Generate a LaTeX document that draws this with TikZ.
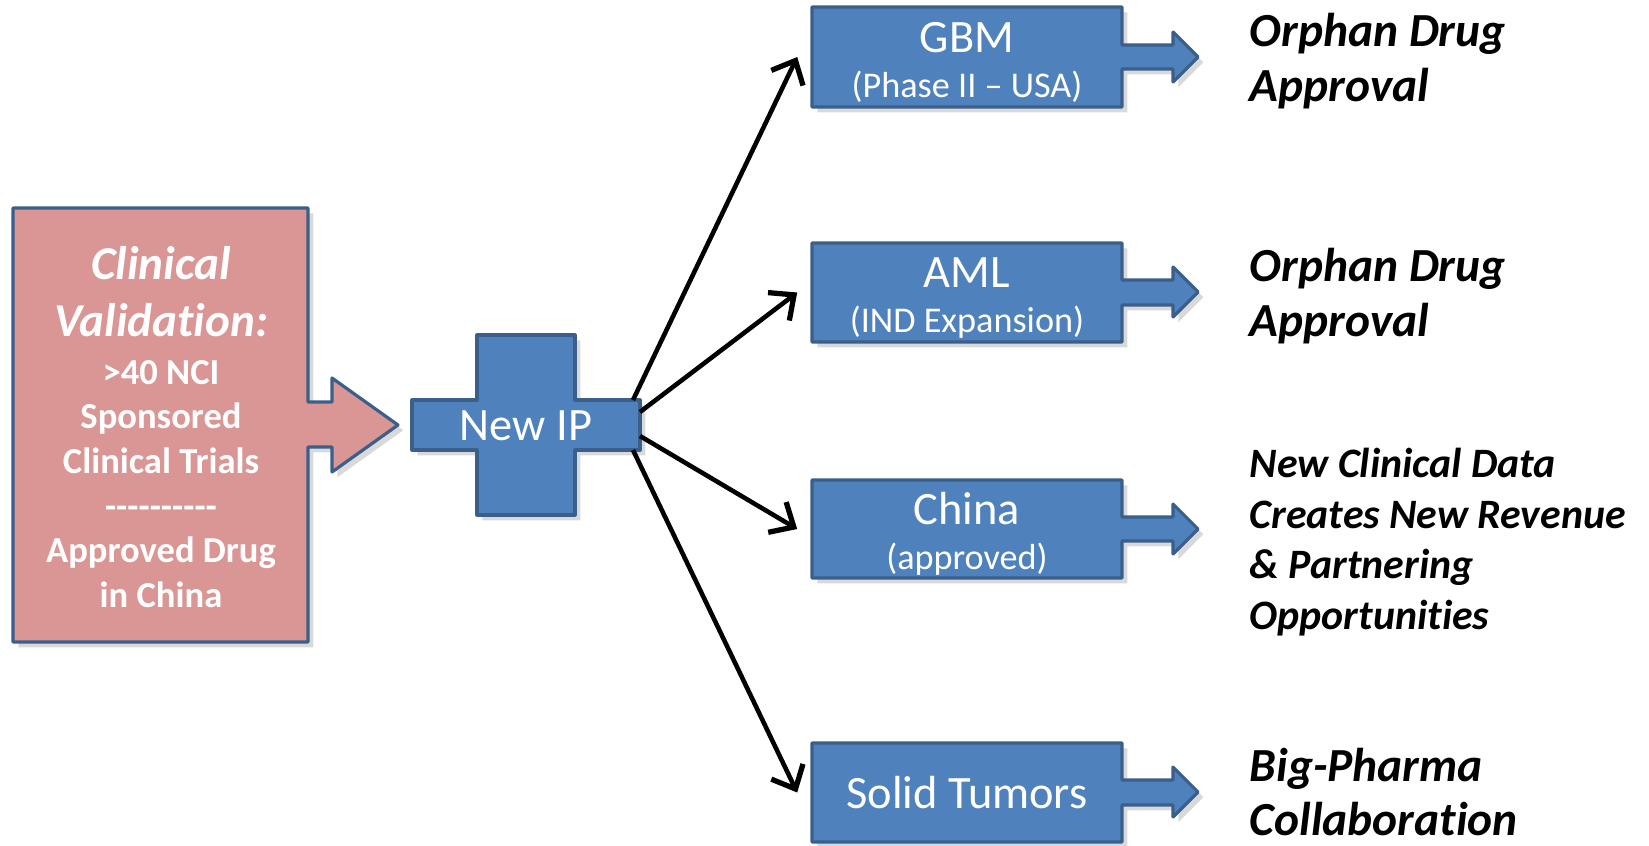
\documentclass[tikz,border=0pt]{standalone}
\usepackage{fontspec}
\setmainfont[Ligatures={TeX,NoCommon}]{Carlito}
\usetikzlibrary{shadows,arrows.meta}

\definecolor{boxblue}{HTML}{4F81BD}
\definecolor{edgeblue}{HTML}{3A5F8B}
\definecolor{boxred}{HTML}{D99694}

\tikzset{
  blueshape/.style={fill=boxblue, draw=edgeblue, line width=0.9pt, line join=round,
    drop shadow={shadow xshift=1.5pt, shadow yshift=-1.5pt, opacity=0.3}},
  redshape/.style={fill=boxred, draw=edgeblue, line width=0.9pt, line join=round,
    drop shadow={shadow xshift=1.5pt, shadow yshift=-1.5pt, opacity=0.3}},
  stage/.style={minimum width=3.1cm, minimum height=1cm, inner sep=0pt, align=center,
    text=white, font=\fontsize{13.2}{12.8}\selectfont},
  stagetwo/.style={stage, text height=25pt, text depth=2pt},
  valtext/.style={inner sep=0pt, align=center, text=white, font=\bfseries\fontsize{10.4}{12.7}\selectfont},
  outcome/.style={anchor=west, align=left, inner sep=0pt, font=\bfseries\itshape\fontsize{13.5}{15.6}\selectfont},
  link/.style={line width=1.3pt, -{Straight Barb[length=5.5pt,width=10pt,line width=1.5pt]}}
}

\begin{document}
\begin{tikzpicture}[x=0.01cm,y=-0.01cm]
\useasboundingbox (0,0) rectangle (1649,845);

% clinical validation box with its arrow
\filldraw[redshape] (13,208) -- (308,208) -- (308,402) -- (332,402) -- (332,378) -- (398,425)
  -- (332,472) -- (332,447) -- (308,447) -- (308,642) -- (13,642) -- cycle;
\node[valtext] (valid) at (161,427) {{\itshape\fontsize{13.4}{16}\selectfont Clinical}\\[3.5pt]{\itshape\fontsize{13.4}{16}\selectfont Validation:}\\[1pt]>40 NCI\\Sponsored\\Clinical Trials\\-{}-{}-{}-{}-{}-{}-{}-{}-{}-\\Approved Drug\\in China};

% new IP cross
\filldraw[blueshape] (477,335) -- (575,335) -- (575,400) -- (640,400) -- (640,450) -- (575,450)
  -- (575,515) -- (477,515) -- (477,450) -- (412,450) -- (412,400) -- (477,400) -- cycle;
\node[text=white, font=\fontsize{13.2}{15}\selectfont] (newip) at (526,426) {New IP};

\coordinate (ipa) at (633,400);
\coordinate (ipb) at (640,412);
\coordinate (ipc) at (640,436);
\coordinate (ipd) at (633,450);

% stages
\filldraw[blueshape] (812,7) -- (1122,7) -- (1122,45) -- (1173,45) -- (1173,32) -- (1198,57)
  -- (1173,82) -- (1173,69) -- (1122,69) -- (1122,107) -- (812,107) -- cycle;
\node[stagetwo] (gbm) at (967,57) {GBM\\{\fontsize{10.3}{12}\selectfont (Phase II -- USA)}};

\filldraw[blueshape] (812,243) -- (1122,243) -- (1122,280) -- (1173,280) -- (1173,267) -- (1198,292)
  -- (1173,317) -- (1173,305) -- (1122,305) -- (1122,342) -- (812,342) -- cycle;
\node[stagetwo] (aml) at (967,292.5) {AML\\{\fontsize{10.3}{12}\selectfont (IND Expansion)}};

\filldraw[blueshape] (812,480) -- (1122,480) -- (1122,517) -- (1173,517) -- (1173,504) -- (1198,529)
  -- (1173,554) -- (1173,541) -- (1122,541) -- (1122,578) -- (812,578) -- cycle;
\node[stagetwo] (china) at (967,529) {China\\{\fontsize{10.3}{12}\selectfont (approved)}};

\filldraw[blueshape] (812,743) -- (1122,743) -- (1122,780) -- (1173,780) -- (1173,767) -- (1198,792)
  -- (1173,817) -- (1173,805) -- (1122,805) -- (1122,842) -- (812,842) -- cycle;
\node[stage] (solid) at (967,792.5) {Solid Tumors};

% connectors
\draw[link] (ipa) -- ([xshift=-0.14cm]gbm.west);
\draw[link] (ipb) -- ([xshift=-0.14cm]aml.west);
\draw[link] (ipc) -- ([xshift=-0.14cm]china.west);
\draw[link] (ipd) -- ([xshift=-0.14cm]solid.west);

% outcomes
\node[outcome] (orph1) at (1249,61.5) {Orphan Drug\\Approval};
\node[outcome] (orph2) at (1249,296) {Orphan Drug\\Approval};
\node[outcome, font=\bfseries\itshape\fontsize{11.9}{14.4}\selectfont] (data) at (1249,542) {New Clinical Data\\Creates New Revenue\\\& Partnering\\Opportunities};
\node[outcome] (pharma) at (1249,792) {Big-Pharma\\Collaboration};

\end{tikzpicture}
\end{document}
